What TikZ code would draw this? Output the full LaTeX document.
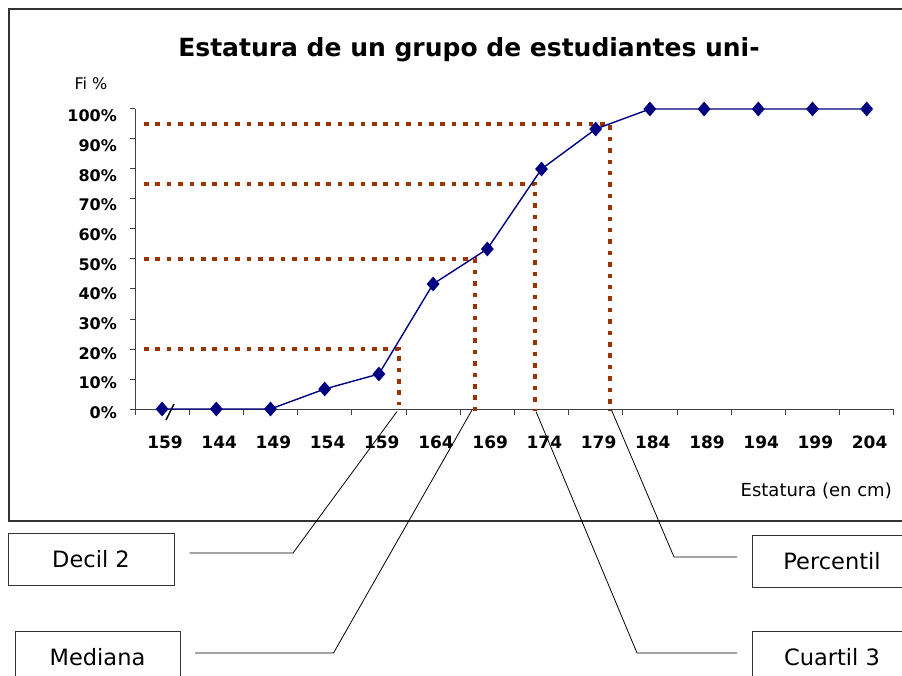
\documentclass[tikz,border=0pt]{standalone}
\usepackage{fontspec}
\setmainfont{DejaVu Sans}
\usetikzlibrary{shapes.geometric}
\definecolor{navy}{HTML}{000080}
\definecolor{rust}{HTML}{993300}
\begin{document}
\begin{tikzpicture}[x=1pt,y=-1pt,
  mk/.style={diamond, fill=navy, draw=none, inner sep=0pt, minimum width=13pt, minimum height=15pt},
  serie/.style={navy, line width=1.4pt},
  guide/.style={rust, line width=4.5pt, dash pattern=on 4.5pt off 6.9pt},
  leader/.style={black, line width=0.8pt},
  axisline/.style={black!75, line width=1pt},
  lblbox/.style={draw=black!80, line width=1pt, fill=white, inner sep=0pt,
    minimum width=#1, minimum height=52pt, font=\fontsize{22.5}{26}\selectfont},
  ylab/.style={anchor=east, font=\bfseries\fontsize{16}{18}\selectfont, inner sep=0pt},
  xlab/.style={font=\bfseries\fontsize{17}{19}\selectfont, inner sep=0pt}
]
\useasboundingbox (0,0) rectangle (902,676);
% chart frame
\draw[black!80, line width=1.8pt] (9,9) rectangle (915,521);
% title and axis titles
\node[anchor=base, font=\bfseries\fontsize{25}{28}\selectfont, inner sep=0pt] (title) at (469,57) {Estatura de un grupo de estudiantes uni-};
\node[font=\fontsize{16}{18}\selectfont, inner sep=0pt] (fi) at (91,84) {Fi \%};
\node[anchor=east, font=\fontsize{18}{20}\selectfont, inner sep=0pt] (xt) at (892,491) {Estatura (en cm)};
% axes
\draw[axisline] (135,109) -- (135,409) -- (894,409);
\foreach \i in {0,...,10} {
  \draw[axisline] (130,409-30*\i) -- (135,409-30*\i);
  \pgfmathtruncatemacro{\pc}{10*\i}
  \node[ylab] (yl\i) at (117,412.5-29.65*\i) {\pc\%};
}
\foreach \k in {0,...,14} {
  \draw[axisline] (135+54.2*\k,409) -- (135+54.2*\k,415);
}
\foreach \v [count=\i from 0] in {159,144,149,154,159,164,169,174,179,184,189,194,199,204} {
  \node[xlab] (xl\i) at (165+54.2*\i,442.5) {\v};
}
% break mark
\draw[black, line width=1.4pt] (166,420) -- (174,404);
% guide lines
\draw[guide] (144,124) -- (610,124) -- (610,411);
\draw[guide] (144,184) -- (535,184) -- (535,411);
\draw[guide] (144,259) -- (475,259) -- (475,418);
\draw[guide] (144,349) -- (399,349) -- (399,405);
% data series
\foreach \p [count=\i from 1] in {0,0,0,6.667,11.667,41.667,53.333,80,93.333,100,100,100,100,100} {
  \coordinate (c\i) at (162.1+54.2*\i-54.2,409-3*\p);
}
\draw[serie] (c1) \foreach \i in {2,...,14} { -- (c\i) };
\foreach \i in {1,...,14} { \node[mk] (p\i) at (c\i) {}; }
% label boxes
\node[lblbox=166pt] (decil) at (91,559) {Decil 2};
\node[lblbox=165pt] (mediana) at (97.5,657) {Mediana};
\node[lblbox=160pt] (percentil) at (832,561.5) {Percentil};
\node[lblbox=160pt] (cuartil) at (832,657) {Cuartil 3};
% leader points
\coordinate (d0) at (397,411.5);
\coordinate (d1) at (293,553);
\coordinate (d2) at (189.5,553);
\coordinate (m0) at (472,410);
\coordinate (m1) at (333.5,653);
\coordinate (m2) at (195,653);
\coordinate (q0) at (536,411.5);
\coordinate (q1) at (637,653);
\coordinate (q2) at (737,653);
\coordinate (r0) at (611.5,410);
\coordinate (r1) at (674,557);
\coordinate (r2) at (737,557);
\draw[leader] (d0) -- (d1) -- (d2);
\draw[leader] (m0) -- (m1) -- (m2);
\draw[leader] (q0) -- (q1) -- (q2);
\draw[leader] (r0) -- (r1) -- (r2);
\end{tikzpicture}
\end{document}
